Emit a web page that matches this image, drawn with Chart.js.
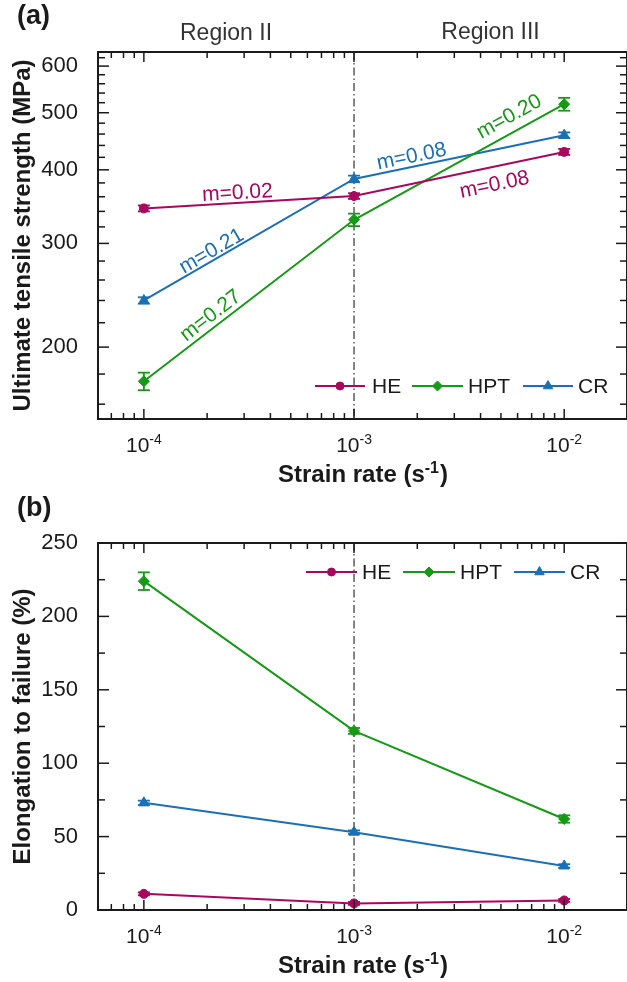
<!DOCTYPE html>
<html>
<head>
<meta charset="utf-8">
<script src="https://cdn.jsdelivr.net/npm/chart.js@4.4.1/dist/chart.umd.min.js"></script>
<style>
html, body { margin: 0; padding: 0; background: #fff; overflow: hidden; }
.panel { position: relative; width: 627px; height: 491px; }
canvas { display: block; }
</style>
</head>
<body>
<div class="panel"><canvas id="cvA" width="627" height="491"></canvas></div>
<div class="panel"><canvas id="cvB" width="627" height="491"></canvas></div>
<script>
/***** data *****/
const SERIES = ["HE", "HPT", "CR"];
const RATES = [1e-4, 1e-3, 1e-2]; // strain rate (s-1)

// (a) ultimate tensile strength (MPa)
const UTS_HE = [344, 361, 429];
const UTS_HPT = [175, 329, 517];
const UTS_CR = [240, 386, 458];
const UTS_HE_ERR = [4, 4, 5];
const UTS_HPT_ERR = [6, 8, 13];
const UTS_CR_ERR = [3, 5, 5];

// (b) elongation to failure (%)
const EL_HE = [11, 4.5, 6.5];
const EL_HPT = [224, 122, 62];
const EL_CR = [73, 53, 30];
const EL_HE_ERR = [1, 1, 1];
const EL_HPT_ERR = [6, 2, 2.5];
const EL_CR_ERR = [1.5, 1.2, 1.2];

// axes (the right frame edge sits just past the picture edge)
const X_MIN = 6.05e-5, X_MAX = 0.0199;
const X_MAJOR = [1e-4, 1e-3, 1e-2];
const X_MINOR = [7e-5, 8e-5, 9e-5,
  2e-4, 3e-4, 4e-4, 5e-4, 6e-4, 7e-4, 8e-4, 9e-4,
  2e-3, 3e-3, 4e-3, 5e-3, 6e-3, 7e-3, 8e-3, 9e-3];
const X_LABELS = ["-4", "-3", "-2"]; // exponents of 10
const DIVIDE_AT = 1e-3;

const UTS_MIN = 151, UTS_MAX = 634;
const UTS_MAJOR = [200, 300, 400, 500, 600];
const UTS_MINOR = [160, 180, 220, 240, 260, 280, 320, 340, 360, 380,
  420, 440, 460, 480, 520, 540, 560, 580, 620];

const EL_MIN = 0, EL_MAX = 250;
const EL_MAJOR = [0, 50, 100, 150, 200, 250];
const EL_MINOR = [25, 75, 125, 175, 225];

// slope notes in panel (a): text, series, segment, spot (data coords)
const UTS_NOTES = [
  { text: "m=0.02", s: 0, seg: 0, x: 2.79e-4, y: 365 },
  { text: "m=0.21", s: 2, seg: 0, x: 2.10e-4, y: 291 },
  { text: "m=0.27", s: 1, seg: 0, x: 2.08e-4, y: 226 },
  { text: "m=0.08", s: 2, seg: 1, x: 1.88e-3, y: 421 },
  { text: "m=0.20", s: 1, seg: 1, x: 5.48e-3, y: 492 },
  { text: "m=0.08", s: 0, seg: 1, x: 4.66e-3, y: 377 },
];

/***** style *****/
const FONT = '"Liberation Sans", Arimo, Arial, sans-serif';
const INK = "#1a1a1a";
const COLORS = ["#a8075e", "#159a15", "#1b70b5"];
const STYLES = ["circle", "rectRot", "triangle"];
const RADII = [4.5, 5.5, 6];

Chart.defaults.font.family = FONT;
Chart.defaults.color = INK;

const PANELS = {
  cvA: {
    tag: "(a)", tagY: 17, regions: true,
    values: [UTS_HE, UTS_HPT, UTS_CR],
    errors: [UTS_HE_ERR, UTS_HPT_ERR, UTS_CR_ERR],
    yMajor: UTS_MAJOR, yMinor: UTS_MINOR,
    legendY: 386,
    legend: [[315, 365, 372], [412, 463, 468], [523, 573, 578]],
    notes: UTS_NOTES
  },
  cvB: {
    tag: "(b)", tagY: 18, regions: false,
    values: [EL_HE, EL_HPT, EL_CR],
    errors: [EL_HE_ERR, EL_HPT_ERR, EL_CR_ERR],
    yMajor: EL_MAJOR, yMinor: EL_MINOR,
    legendY: 81,
    legend: [[306, 357, 362], [403, 455, 460], [514, 565, 570]],
    notes: []
  }
};

/***** helpers *****/
function line(ctx, x1, y1, x2, y2){
  ctx.beginPath(); ctx.moveTo(x1, y1); ctx.lineTo(x2, y2); ctx.stroke();
}
function marker(ctx, i, x, y){
  ctx.fillStyle = COLORS[i];
  ctx.strokeStyle = COLORS[i];
  ctx.lineWidth = 1;
  Chart.helpers.drawPoint(ctx, { pointStyle: STYLES[i], radius: RADII[i] - 0.5, rotation: 0, borderWidth: 1 }, x, y);
}
// "base" + raised "sup" (+ tail), centred on cx
function supText(ctx, base, sup, cx, baseY, size, supSize, weight, tail){
  ctx.font = `${weight} ${size}px ${FONT}`;
  const w1 = ctx.measureText(base).width;
  const w3 = tail ? ctx.measureText(tail).width : 0;
  ctx.font = `${weight} ${supSize}px ${FONT}`;
  const w2 = ctx.measureText(sup).width;
  let x = cx - (w1 + w2 + w3) / 2;
  ctx.textAlign = "left"; ctx.textBaseline = "alphabetic";
  ctx.font = `${weight} ${size}px ${FONT}`;
  ctx.fillText(base, x, baseY);
  ctx.font = `${weight} ${supSize}px ${FONT}`;
  ctx.fillText(sup, x + w1, baseY - size * 0.38);
  if(tail){
    ctx.font = `${weight} ${size}px ${FONT}`;
    ctx.fillText(tail, x + w1 + w2 + 1, baseY);
  }
}

/***** plugin: frame, ticks, error bars, legend, notes *****/
const framePlugin = {
  id: "frame",
  beforeDatasetsDraw(chart){
    const { ctx, chartArea: a, scales: { x } } = chart;
    const px = x.getPixelForValue(DIVIDE_AT);
    ctx.save();
    ctx.strokeStyle = "#333";
    ctx.lineWidth = 1.2;
    ctx.setLineDash([8, 3, 1.5, 3]);
    line(ctx, px, a.top, px, a.bottom);
    ctx.restore();
  },
  afterDatasetsDraw(chart){
    const P = PANELS[chart.canvas.id];
    const { ctx, scales: { x, y } } = chart;
    ctx.save();
    ctx.lineWidth = 1.8;
    P.values.forEach((vals, i) => {
      ctx.strokeStyle = COLORS[i];
      vals.forEach((v, j) => {
        const e = P.errors[i][j];
        const px = x.getPixelForValue(RATES[j]);
        const t = y.getPixelForValue(v + e), b = y.getPixelForValue(v - e);
        line(ctx, px, t, px, b);
        line(ctx, px - 6, t, px + 6, t);
        line(ctx, px - 6, b, px + 6, b);
      });
    });
    ctx.restore();
  },
  afterDraw(chart){
    const P = PANELS[chart.canvas.id];
    const { ctx, chartArea: a, scales: { x, y } } = chart;
    ctx.save();

    // box
    ctx.strokeStyle = INK;
    ctx.lineWidth = 2;
    ctx.strokeRect(a.left, a.top, a.right - a.left, a.bottom - a.top);

    // inward ticks on all four sides
    ctx.lineWidth = 1.5;
    const xt = (vals, len) => vals.forEach(v => {
      const p = x.getPixelForValue(v);
      line(ctx, p, a.bottom, p, a.bottom - len);
      line(ctx, p, a.top, p, a.top + len);
    });
    const yt = (vals, len) => vals.forEach(v => {
      const p = y.getPixelForValue(v);
      line(ctx, a.left, p, a.left + len, p);
      line(ctx, a.right, p, a.right - len, p);
    });
    xt(X_MAJOR, 10); xt(X_MINOR, 6);
    yt(P.yMajor, 11); yt(P.yMinor, 7);

    // x tick labels 10^n
    ctx.fillStyle = INK;
    X_MAJOR.forEach((v, k) => {
      supText(ctx, "10", X_LABELS[k], x.getPixelForValue(v), a.bottom + 33, 21, 14, "normal");
    });
    // x title
    supText(ctx, "Strain rate (s", "-1", (a.left + a.right) / 2, a.bottom + 63, 24, 16, "bold", ")");

    // panel tag
    ctx.font = `bold 27px ${FONT}`;
    ctx.textAlign = "left"; ctx.textBaseline = "middle";
    ctx.fillText(P.tag, 17, P.tagY);

    // region labels
    if(P.regions){
      const mid = x.getPixelForValue(DIVIDE_AT);
      ctx.font = `23px ${FONT}`;
      ctx.fillStyle = "#333";
      ctx.textAlign = "center";
      ctx.fillText("Region II", (a.left + mid) / 2, 34);
      ctx.fillText("Region III", (mid + a.right) / 2, 33);
    }

    // legend
    P.legend.forEach(([x0, x1, tx], i) => {
      ctx.strokeStyle = COLORS[i];
      ctx.lineWidth = 2;
      line(ctx, x0, P.legendY, x1, P.legendY);
      marker(ctx, i, (x0 + x1) / 2, P.legendY);
      ctx.fillStyle = INK;
      ctx.font = `21px ${FONT}`;
      ctx.textAlign = "left"; ctx.textBaseline = "middle";
      ctx.fillText(SERIES[i], tx, P.legendY + 1);
    });

    // slope notes, turned along their segment
    P.notes.forEach(n => {
      const vals = P.values[n.s];
      const x0 = x.getPixelForValue(RATES[n.seg]), y0 = y.getPixelForValue(vals[n.seg]);
      const x1 = x.getPixelForValue(RATES[n.seg + 1]), y1 = y.getPixelForValue(vals[n.seg + 1]);
      const ang = Math.atan2(y1 - y0, x1 - x0);
      ctx.save();
      ctx.translate(x.getPixelForValue(n.x), y.getPixelForValue(n.y));
      ctx.rotate(ang);
      ctx.fillStyle = COLORS[n.s];
      ctx.font = `21px ${FONT}`;
      ctx.textAlign = "center"; ctx.textBaseline = "middle";
      ctx.fillText(n.text, 0, 0);
      ctx.restore();
    });

    ctx.restore();
  }
};

/***** chart *****/
function makeChart(id, yType, yMin, yMax, yTitle){
  const P = PANELS[id];
  const datasets = SERIES.map((name, i) => ({
    label: name,
    data: RATES.map((r, j) => ({ x: r, y: P.values[i][j] })),
    borderColor: COLORS[i],
    backgroundColor: COLORS[i],
    borderWidth: 2,
    pointStyle: STYLES[i],
    pointRadius: RADII[i],
    pointBorderWidth: 1,
    tension: 0
  }));
  return new Chart(document.getElementById(id), {
    type: "line",
    data: { datasets },
    options: {
      responsive: false,
      animation: false,
      events: [],
      layout: { autoPadding: false, padding: { top: 52, right: -2, left: 0, bottom: 0 } },
      plugins: { legend: { display: false }, tooltip: { enabled: false } },
      scales: {
        x: {
          type: "logarithmic", min: X_MIN, max: X_MAX,
          afterBuildTicks: s => { s.ticks = X_MAJOR.map(v => ({ value: v })); },
          afterFit: s => { s.height = 72; },
          ticks: { display: false },
          grid: { display: false },
          border: { display: false }
        },
        y: {
          type: yType, min: yMin, max: yMax,
          afterBuildTicks: s => { s.ticks = P.yMajor.map(v => ({ value: v })); },
          afterFit: s => { s.width = 98; },
          ticks: { padding: 12, font: { size: 22 }, color: INK, callback: v => String(v) },
          grid: { display: false },
          border: { display: false },
          title: {
            display: true, text: yTitle, color: INK,
            font: { size: 24, weight: "bold" },
            padding: { top: 9, bottom: 0 }
          }
        }
      }
    },
    plugins: [framePlugin]
  });
}

makeChart("cvA", "logarithmic", UTS_MIN, UTS_MAX, "Ultimate tensile strength (MPa)");
makeChart("cvB", "linear", EL_MIN, EL_MAX, "Elongation to failure (%)");
</script>
</body>
</html>
